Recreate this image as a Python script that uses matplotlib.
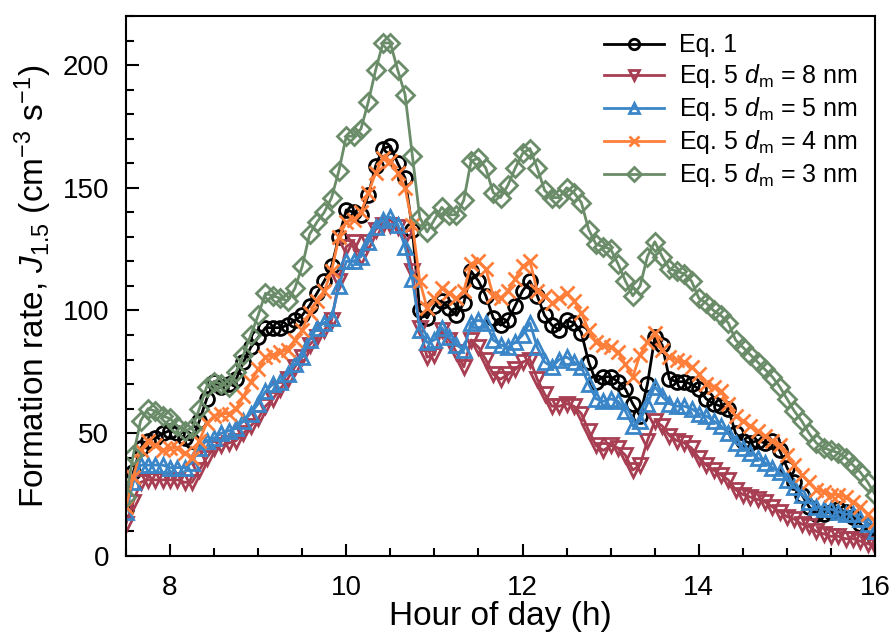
import numpy as np
import matplotlib
matplotlib.use("Agg")
import matplotlib.pyplot as plt
from matplotlib.ticker import MultipleLocator

plt.rcParams['font.family'] = ['Liberation Sans', 'DejaVu Sans']
plt.rcParams['mathtext.fontset'] = 'custom'
plt.rcParams['mathtext.rm'] = 'Liberation Sans'
plt.rcParams['mathtext.it'] = 'Liberation Sans:italic'

# 5-minute values, one row per hour starting at 7:30
eq1 = [19, 34, 44, 47, 48, 50, 51, 50, 48, 47, 55, 64,
       71, 69, 70, 72, 79, 85, 89, 93, 93, 93, 94, 96,
       98, 102, 107, 112, 118, 130, 141, 140, 139, 147, 159, 166,
       167, 160, 154, 133, 100, 97, 102, 104, 101, 98, 103, 116,
       112, 106, 97, 94, 96, 102, 108, 112, 106, 98, 94, 92,
       96, 95, 91, 79, 71, 73, 73, 71, 68, 62, 57, 70,
       89, 86, 72, 71, 71, 70, 68, 64, 62, 61, 60, 50,
       47, 46, 47, 46, 47, 43, 36, 30, 25, 20, 17, 17,
       18, 19, 18, 16, 13, 10, 7]

dm8 = [13, 22, 30, 31, 31, 31, 31, 31, 30, 30, 35, 40,
       44, 45, 46, 47, 50, 53, 56, 61, 64, 68, 72, 77,
       81, 86, 89, 92, 96, 112, 126, 128, 122, 128, 133, 135,
       135, 134, 130, 116, 93, 81, 82, 92, 88, 83, 77, 88,
       85, 80, 74, 72, 74, 76, 79, 80, 72, 66, 61, 61,
       62, 61, 58, 51, 45, 43, 45, 44, 41, 35, 37, 47,
       55, 53, 49, 47, 46, 44, 40, 37, 35, 33, 31, 27,
       25, 24, 23, 22, 20, 18, 16, 15, 13, 12, 10, 9,
       8, 8, 7, 7, 6, 5, 4]

dm5 = [18, 30, 37, 37, 37, 37, 36, 36, 36, 38, 44, 47,
       48, 50, 51, 52, 55, 58, 62, 67, 70, 71, 74, 78,
       81, 88, 93, 95, 97, 110, 120, 120, 122, 128, 134, 137,
       138, 135, 126, 113, 92, 87, 88, 93, 89, 86, 84, 95,
       96, 95, 88, 86, 85, 87, 90, 95, 85, 79, 77, 80,
       81, 79, 77, 70, 64, 63, 64, 63, 59, 53, 55, 62,
       69, 65, 62, 61, 61, 60, 58, 57, 55, 53, 50, 46,
       44, 42, 40, 38, 36, 34, 31, 28, 25, 22, 20, 19,
       19, 18, 17, 17, 15, 13, 10]

dm4 = [20, 32, 43, 47, 45, 43, 44, 44, 42, 40, 47, 54,
       57, 58, 58, 60, 65, 71, 76, 81, 82, 83, 84, 88,
       92, 99, 104, 108, 116, 130, 136, 137, 140, 148, 156, 162,
       161, 156, 150, 135, 112, 101, 105, 109, 107, 105, 108, 119,
       120, 117, 106, 105, 108, 113, 118, 120, 108, 106, 103, 105,
       107, 104, 99, 92, 87, 86, 85, 83, 78, 73, 82, 87,
       91, 84, 81, 80, 79, 77, 74, 70, 69, 67, 62, 57,
       55, 53, 51, 49, 47, 45, 41, 37, 33, 30, 27, 26,
       25, 25, 24, 22, 20, 17, 14]

dm3 = [24, 41, 55, 60, 59, 57, 56, 53, 51, 52, 60, 69,
       71, 70, 69, 75, 82, 90, 98, 107, 106, 105, 104, 109,
       118, 131, 136, 140, 146, 157, 171, 171, 174, 185, 198, 209,
       209, 198, 188, 163, 138, 132, 137, 142, 139, 139, 145, 161,
       162, 158, 148, 146, 151, 158, 164, 166, 158, 149, 146, 146,
       150, 148, 144, 133, 127, 126, 125, 119, 112, 106, 110, 122,
       128, 122, 117, 116, 115, 112, 105, 103, 100, 98, 95, 88,
       85, 82, 79, 76, 73, 69, 64, 59, 55, 50, 46, 44,
       43, 42, 40, 37, 34, 30, 25]

hours = 7.5 + np.arange(len(eq1)) / 12

series = [
    (eq1, 'Eq. 1', 'black', 'o', 10),
    (dm8, r'Eq. 5 $d_\mathrm{m}$ = 8 nm', '#A83E52', 'v', 10),
    (dm5, r'Eq. 5 $d_\mathrm{m}$ = 5 nm', '#3A86C8', '^', 10),
    (dm4, r'Eq. 5 $d_\mathrm{m}$ = 4 nm', '#FF7F3A', 'x', 10),
    (dm3, r'Eq. 5 $d_\mathrm{m}$ = 3 nm', '#6A8C68', 'D', 9.5),
]

fig = plt.figure(figsize=(8.93, 6.39), dpi=100)
ax = fig.add_axes([0.141, 0.130, 0.839, 0.845])

for vals, lab, col, mk, ms in series:
    ax.plot(hours, vals, color=col, lw=2, marker=mk, ms=ms,
            mfc='none', mec=col, mew=2, label=lab)

ax.set_xlim(7.5, 16)
ax.set_ylim(0, 220)
ax.xaxis.set_major_locator(MultipleLocator(2))
ax.xaxis.set_minor_locator(MultipleLocator(0.5))
ax.yaxis.set_major_locator(MultipleLocator(50))
ax.yaxis.set_minor_locator(MultipleLocator(10))
ax.tick_params(which='both', direction='in', width=1.5, labelsize=20)
ax.tick_params(which='major', length=9)
ax.tick_params(which='minor', length=6)
ax.tick_params(axis='y', pad=12)
ax.tick_params(axis='x', pad=14)
for sp in ax.spines.values():
    sp.set_linewidth(1.5)

# keep the x label just inside the bottom edge
ax.set_xlabel('Hour of day (h)', fontsize=24, labelpad=0)
ax.set_ylabel(r'Formation rate, $J_{1.5}$ (cm$^{-3}$ s$^{-1}$)', fontsize=24, labelpad=6)

leg = ax.legend(loc='upper right', frameon=False, fontsize=18, handlelength=2.4,
                handletextpad=0.6, labelspacing=0.2, borderaxespad=0.3,
                markerscale=0.75)

fig.savefig('out.png', dpi=100)
